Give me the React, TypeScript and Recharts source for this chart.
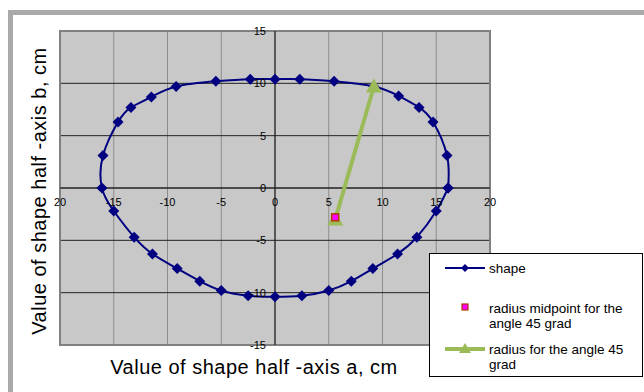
import { ScatterChart, Scatter, XAxis, YAxis, CartesianGrid, ReferenceLine, ReferenceArea, Legend } from 'recharts'

const shapeX = [16.1, 16.0, 14.7, 13.4, 11.5, 9.2, 5.5, 2.3, 0, -2.3, -5.5, -9.2, -11.5, -13.4, -14.6, -16.0, -16.1, -15.0, -13.1, -11.4, -9.1, -7.0, -5.0, -2.5, 0, 2.5, 5.0, 7.1, 9.1, 11.4, 13.2, 15.0, 16.1]
const shapeY = [0, 3.1, 6.3, 7.7, 8.8, 9.7, 10.2, 10.4, 10.4, 10.4, 10.2, 9.7, 8.7, 7.7, 6.3, 3.1, 0, -2.2, -4.7, -6.3, -7.7, -8.9, -9.8, -10.3, -10.4, -10.3, -9.8, -8.9, -7.7, -6.3, -4.7, -2.2, 0]

const radiusX = [5.6, 9.2]
const radiusY = [-3.0, 9.7]

const midX = [5.6]
const midY = [-2.8]

const xTicks = [-20, -15, -10, -5, 0, 5, 10, 15, 20]
const xTickLabels = ['20', '-15', '-10', '-5', '0', '5', '10', '15', '20']
const yTicks = [-15, -10, -5, 0, 5, 10, 15]
const yTickLabels = ['-15', '-10', '-5', '0', '5', '10', '15']

const seriesNames = ['shape', 'radius midpoint for the angle 45 grad', 'radius for the angle 45 grad']

const shapeData = shapeX.map((x, i) => ({ x, y: shapeY[i] }))
const radiusData = radiusX.map((x, i) => ({ x, y: radiusY[i] }))
const midData = midX.map((x, i) => ({ x, y: midY[i] }))

const FONT = '"Liberation Sans", Arial, sans-serif'
const NAVY = '#000080'
const GREEN = '#9bbb59'

// axes take 1px each, so plot area is 60..490 x 31..345
const margin = { top: 31, left: 59, right: 154, bottom: 46 }
const plotLeft = 60
const plotTop = 31
const plotW = 430
const plotH = 314
const zeroX = plotLeft + plotW * 20 / 40
const zeroY = plotTop + plotH * 15 / 30

function Diamond({ cx, cy }: any) {
  const r = 5.5
  return <polygon points={`${cx},${cy - r} ${cx + r},${cy} ${cx},${cy + r} ${cx - r},${cy}`} fill={NAVY} />
}

function Triangle({ cx, cy }: any) {
  return <polygon points={`${cx},${cy - 8} ${cx + 8},${cy + 6} ${cx - 8},${cy + 6}`} fill={GREEN} />
}

function PinkSquare({ cx, cy }: any) {
  return <rect x={cx - 3.5} y={cy - 3.5} width={7} height={7} fill="#ff00ff" stroke="#b03a00" strokeWidth={1.5} />
}

function XTick({ x, payload }: any) {
  const label = xTickLabels[xTicks.indexOf(payload.value)]
  return (
    <text x={x} y={zeroY + 14} textAnchor="middle" dominantBaseline="central" fontSize={11} fontFamily={FONT} fill="#000">
      {label}
    </text>
  )
}

function YTick({ y, payload }: any) {
  const label = yTickLabels[yTicks.indexOf(payload.value)]
  return (
    <text x={zeroX - 9} y={y} textAnchor="end" dominantBaseline="central" fontSize={11} fontFamily={FONT} fill="#000">
      {label}
    </text>
  )
}

function XTitle() {
  return (
    <text x={254} y={374} textAnchor="middle" fontSize={20} letterSpacing={0.5} fontFamily={FONT} fill="#000">
      Value of shape half -axis a, cm
    </text>
  )
}

function YTitle() {
  return (
    <text x={46} y={191} transform="rotate(-90 46 191)" textAnchor="middle" fontSize={20} letterSpacing={0.5} fontFamily={FONT} fill="#000">
      Value of shape half -axis b, cm
    </text>
  )
}

function LegendBox() {
  const t = { fontSize: 13.5, fontFamily: FONT, fill: '#000', dominantBaseline: 'central' as const }
  return (
    <svg width={215} height={125} style={{ display: 'block' }}>
      <rect x={0.5} y={0.5} width={213} height={123} fill="#fff" stroke="#000" />
      <line x1={16} y1={15} x2={56} y2={15} stroke={NAVY} strokeWidth={2} />
      <polygon points="36,11 40,15 36,19 32,15" fill={NAVY} />
      <text x={60} y={15} {...t}>{seriesNames[0]}</text>
      <rect x={33} y={51} width={6} height={6} fill="#ff00ff" stroke="#b03a00" strokeWidth={1.2} />
      <text x={60} y={55} {...t}>radius midpoint for the</text>
      <text x={60} y={70} {...t}>angle 45 grad</text>
      <line x1={16} y1={96} x2={56} y2={96} stroke={GREEN} strokeWidth={4} />
      <polygon points="36,90 42,100 30,100" fill={GREEN} />
      <text x={60} y={96} {...t}>radius for the angle 45</text>
      <text x={60} y={111} {...t}>grad</text>
    </svg>
  )
}

export default function App() {
  return (
    <div style={{ position: 'absolute', left: 0, top: 0, width: 644, height: 392, overflow: 'hidden', background: '#fff' }}>
      <div style={{ position: 'absolute', left: 8, top: 10, width: 700, height: 500, border: '5px solid #a9a9a9', background: '#fff' }} />
      <div style={{ position: 'absolute', left: 0, top: 0 }}>
        <ScatterChart width={644} height={392} margin={margin}>
          <CartesianGrid horizontal={false} stroke="#8c8c8c" fill="#c8c8c8" fillOpacity={1} />
          <CartesianGrid vertical={false} stroke="#222" />
          <XAxis type="number" dataKey="x" domain={[-20, 20]} ticks={xTicks} interval={0} height={1}
            axisLine={false} tickLine={false} tick={<XTick />} label={<XTitle />} allowDataOverflow />
          <YAxis type="number" dataKey="y" domain={[-15, 15]} ticks={yTicks} interval={0} width={1}
            axisLine={false} tickLine={false} tick={<YTick />} label={<YTitle />} allowDataOverflow />
          <ReferenceLine x={0} stroke="#222" strokeWidth={1.2} />
          <ReferenceLine y={0} stroke="#222" strokeWidth={1.2} />
          <ReferenceArea x1={-20} x2={20} y1={-15} y2={15} fill="none" stroke="#808080" strokeWidth={2} />
          <Scatter name={seriesNames[0]} data={shapeData} line={{ stroke: NAVY, strokeWidth: 2 }} lineJointType="natural"
            shape={<Diamond />} isAnimationActive={false} />
          <Scatter name={seriesNames[2]} data={radiusData} line={{ stroke: GREEN, strokeWidth: 4 }}
            shape={<Triangle />} isAnimationActive={false} />
          <Scatter name={seriesNames[1]} data={midData} shape={<PinkSquare />} isAnimationActive={false} />
          <Legend layout="horizontal" verticalAlign="middle" align="center" content={<LegendBox />}
            wrapperStyle={{ position: 'absolute', left: 429, top: 253, width: 215, height: 125 }} />
        </ScatterChart>
      </div>
    </div>
  )
}
